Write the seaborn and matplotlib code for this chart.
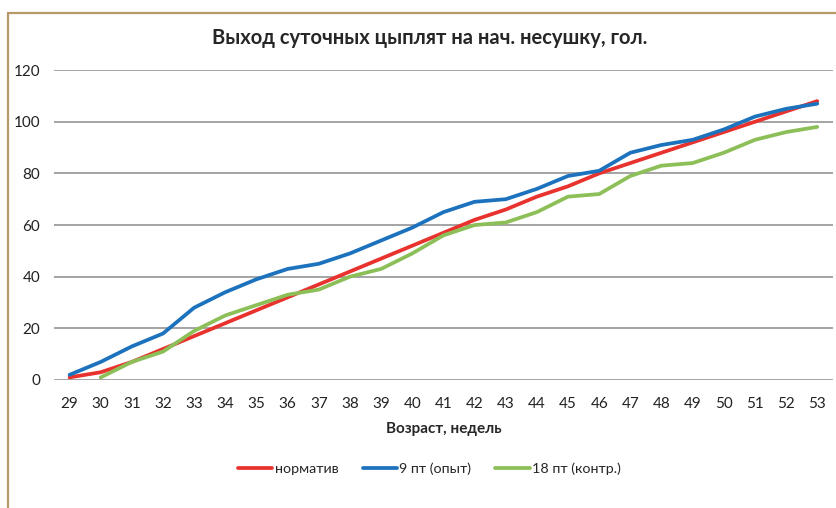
import numpy as np
import pandas as pd
import matplotlib
matplotlib.use("Agg")
import matplotlib.pyplot as plt
import seaborn as sns
from matplotlib.patches import Rectangle

# Данные
weeks = list(range(29, 54))
normativ = [1, 3, 7, 12, 17, 22, 27, 32, 37, 42, 47, 52, 57, 62, 66, 71, 75, 80, 84, 88, 92, 96, 100, 104, 108]
opyt_9 = [2, 7, 13, 18, 28, 34, 39, 43, 45, 49, 54, 59, 65, 69, 70, 74, 79, 81, 88, 91, 93, 97, 102, 105, 107]
kontr_18 = [np.nan, 1, 7, 11, 19, 25, 29, 33, 35, 40, 43, 49, 56, 60, 61, 65, 71, 72, 79, 83, 84, 88, 93, 96, 98]

series_names = ['норматив', '9 пт (опыт)', '18 пт (контр.)']
colors = ['#e8322e', '#1c72bd', '#8dbf58']

df = pd.DataFrame({
    'week': weeks * 3,
    'value': normativ + opyt_9 + kontr_18,
    'series': [series_names[0]] * len(weeks) + [series_names[1]] * len(weeks) + [series_names[2]] * len(weeks),
})

sns.set_style('white')
plt.rcParams['font.family'] = ['Lato', 'DejaVu Sans']

fig = plt.figure(figsize=(8.37, 5.08), dpi=100)
ax = fig.add_axes([0.0645, 0.252, 0.9305, 0.61])

sns.lineplot(
    data=df.dropna(), x='week', y='value', hue='series',
    palette=dict(zip(series_names, colors)), hue_order=series_names,
    linewidth=2.7, ax=ax, legend=False
)

ax.set_xlim(28.5, 53.5)
ax.set_ylim(0, 120)
ax.set_xticks(weeks)
ax.set_yticks(range(0, 121, 20))
ax.tick_params(axis='x', length=0, labelsize=11, colors='#222222', pad=12)
ax.tick_params(axis='y', length=0, labelsize=11, colors='#222222', pad=10)
ax.grid(axis='y', color='#8c8c8c', linewidth=1.1)
ax.set_axisbelow(True)
for s in ax.spines.values():
    s.set_visible(False)
ax.set_xlabel('Возраст, недель', fontsize=11, fontweight='bold', labelpad=8)
ax.set_ylabel('')

fig.text(0.513, 0.925, 'Выход суточных цыплят на нач. несушку, гол.',
         ha='center', va='center', fontsize=14.5, fontweight='bold')

handles = [plt.Line2D([], [], color=c, linewidth=2.7) for c in colors]
fig.legend(handles, series_names, loc='center', bbox_to_anchor=(0.513, 0.078),
           ncol=3, frameon=False, fontsize=10.3, handlelength=2.4,
           handletextpad=0.15, columnspacing=1.7)

# рамка
fig.patches.append(Rectangle((8 / 837, -0.1), 1.2, 1 - 13 / 508 + 0.1,
                             transform=fig.transFigure, fill=False,
                             edgecolor='#b59a68', linewidth=1.6))

fig.savefig('out.png', dpi=100)
